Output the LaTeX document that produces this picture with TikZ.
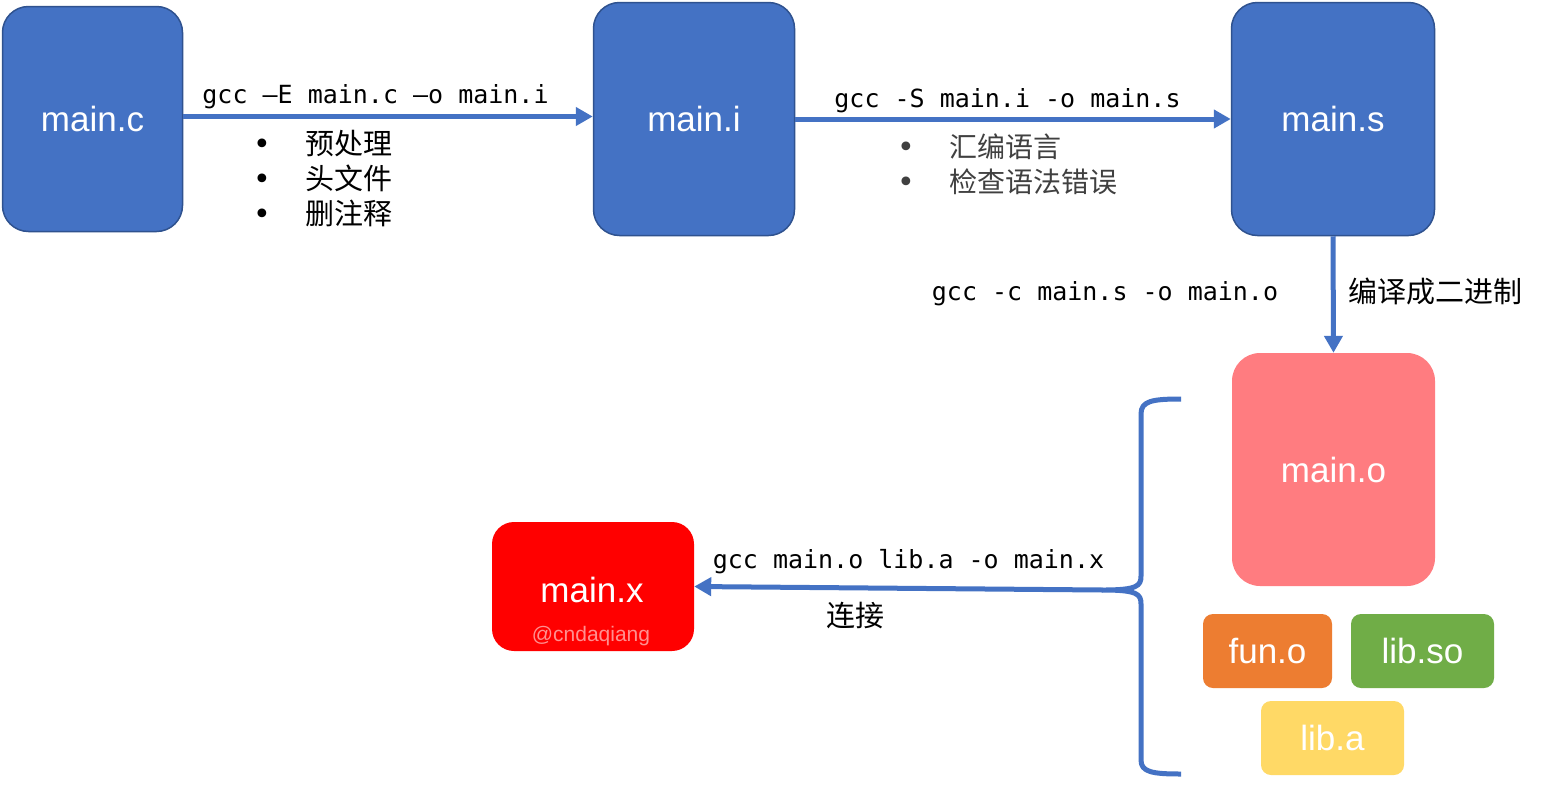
\documentclass[tikz,border=0pt]{standalone}
\usepackage{fontspec}
\setmainfont{Liberation Sans}
\newfontfamily\cjk{Noto Sans CJK SC}
\newfontfamily\mono{DejaVu Sans Mono}
\newfontfamily\dvs{DejaVu Sans}
\usetikzlibrary{arrows.meta}
\definecolor{boxblue}{HTML}{4472C4}
\definecolor{boxedge}{HTML}{2F528F}
\definecolor{salmon}{HTML}{FF7C80}
\definecolor{orangeb}{HTML}{ED7D31}
\definecolor{greenb}{HTML}{70AD47}
\definecolor{yellowb}{HTML}{FFD966}
\definecolor{graytext}{HTML}{404040}
\definecolor{wm}{HTML}{FF9090}
\newcommand\bul{\makebox[48.5pt][l]{\hspace{-3pt}\dvs\fontsize{30}{30}\selectfont •}}
\begin{document}
\begin{tikzpicture}[x=1pt,y=-1pt,
  box/.style={rounded corners=#1, inner sep=0pt, text=white, font=\fontsize{35}{40}\selectfont},
  box/.default=24pt,
  bluebox/.style={box=26pt, fill=boxblue, draw=boxedge, line width=1.5pt},
  conn/.style={draw=boxblue, line width=5pt, -{Triangle[length=17pt,width=18pt]}},
  brace/.style={draw=boxblue, line width=5pt, line join=round},
  cmd/.style={anchor=base, inner sep=0pt, font=\mono\fontsize{25}{30}\selectfont},
  cjkline/.style={anchor=base west, inner sep=0pt, font=\cjk\fontsize{29}{35}\selectfont},
  cjkgray/.style={anchor=base west, inner sep=0pt, text=graytext, font=\cjk\fontsize{28}{35}\selectfont}]

\useasboundingbox (0,0) rectangle (1541,785);
\fill[white] (0,0) rectangle (1541,785);

% boxes
\node[bluebox, minimum width=180pt, minimum height=225pt] (mainc) at (92.5,119) {main.c};
\node[bluebox, minimum width=201pt, minimum height=233pt] (maini) at (694,119) {main.i};
\node[bluebox, minimum width=203pt, minimum height=233pt] (mains) at (1333,119) {main.s};
\node[box=28pt, fill=salmon, minimum width=203pt, minimum height=233pt] (maino) at (1333.5,469.5) {main.o};
\node[box=22pt, fill=red, minimum width=202pt, minimum height=129pt] (mainx) at (593,586.5) {};
\node[box=10pt, fill=orangeb, minimum width=129pt, minimum height=74pt] (funo) at (1267.5,651) {fun.o};
\node[box=10pt, fill=greenb, minimum width=143pt, minimum height=74pt] (libso) at (1422.5,651) {lib.so};
\node[box=10pt, fill=yellowb, minimum width=143pt, minimum height=74pt] (liba) at (1332.5,738) {lib.a};
\node[inner sep=0pt, text=white, font=\fontsize{35}{40}\selectfont] (xlabel) at (592,590) {main.x};
\node[inner sep=0pt, text=wm, font=\fontsize{21}{24}\selectfont] (wmark) at (591,636) {@cndaqiang};

% connectors
\draw[conn] ([yshift=2.5pt]mainc.east) -- ([yshift=2.5pt]maini.west);
\draw[conn] (maini.east) -- (mains.west);
\draw[conn] (mains.south) -- (maino.north);

% brace
\coordinate (btip) at (1103,590);
\draw[brace] (1181,399) .. controls (1152,399) and (1141,401) .. (1141,414)
  -- (1141,576) .. controls (1141,586) and (1137,590) .. (btip)
  .. controls (1137,590) and (1141,594) .. (1141,604)
  -- (1141,760) .. controls (1141,772) and (1152,774) .. (1181,774);
\draw[conn] (btip) -- (mainx.east);

% commands
\node[cmd] (c1) at (375.5,103) {gcc –E main.c –o main.i};
\node[cmd] (c2) at (1007.5,107) {gcc -S main.i -o main.s};
\node[cmd] (c3) at (1105,300) {gcc -c main.s -o main.o};
\node[cmd] (c4) at (908.5,568) {gcc main.o lib.a -o main.x};

% bullet notes
\node[cjkline] (b1a) at (256.5,154) {\bul 预处理};
\node[cjkline] (b1b) at (256.5,189) {\bul 头文件};
\node[cjkline] (b1c) at (256.5,224) {\bul 删注释};
\node[cjkgray] (b2a) at (900.5,157) {\bul 汇编语言};
\node[cjkgray] (b2b) at (900.5,192) {\bul 检查语法错误};

\node[cjkline] (comp) at (1348,302) {编译成二进制};
\node[cjkline] (link) at (826,626) {连接};
\end{tikzpicture}
\end{document}
